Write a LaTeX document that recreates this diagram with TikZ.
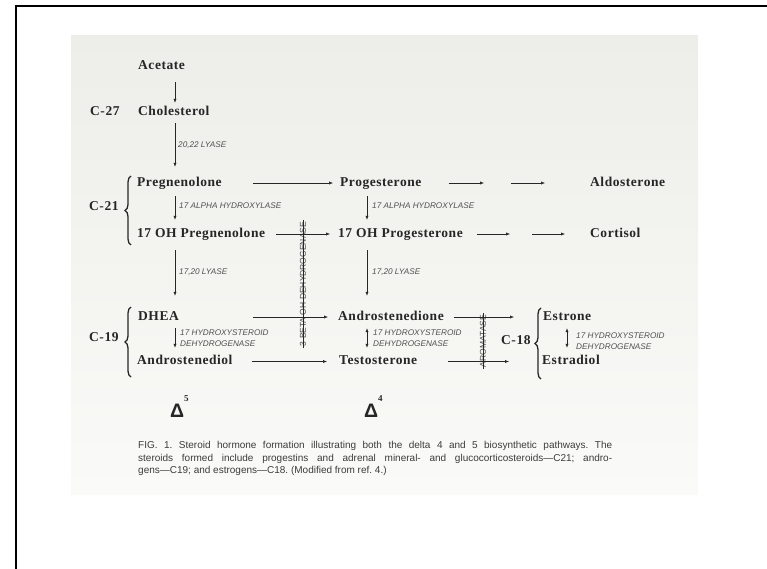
\documentclass[tikz,border=0pt]{standalone}
\usepackage{fontspec}
\setmainfont{Liberation Serif}
\setsansfont{Liberation Sans}
\usetikzlibrary{arrows.meta,decorations.pathreplacing}
\definecolor{ink}{RGB}{38,38,38}
\definecolor{enzink}{RGB}{80,80,80}
\definecolor{papertop}{RGB}{237,237,233}
\definecolor{paperbot}{RGB}{250,250,248}
\frenchspacing

\begin{document}
\begin{tikzpicture}[x=1pt, y=-1pt,
    steroid/.style={anchor=west, inner sep=0pt, text height=9pt, text depth=2.5pt, font=\fontsize{13.5}{15}\selectfont\bfseries\addfontfeature{LetterSpace=4}, text=ink},
    enzyme/.style={anchor=west, inner sep=0pt, font=\sffamily\itshape\fontsize{8.2}{11}\selectfont, text=enzink, align=left},
    vlabel/.style={rotate=90, inner sep=0pt, font=\sffamily\fontsize{8.5}{9}\selectfont, text=enzink},
    curly/.style={decorate, decoration={brace, amplitude=6pt}, line width=1.3pt, draw=ink},
    delta/.style={anchor=base west, inner sep=0pt, font=\sffamily\bfseries\fontsize{19.5}{20}\selectfont, text=ink},
    caption/.style={anchor=base west, inner sep=0pt, font=\sffamily\fontsize{10}{12}\selectfont, text=ink!90},
    edge/.style={-{Latex[length=4pt,width=3.2pt]}, line width=0.6pt, draw=ink},
    twoway/.style={{Latex[length=4pt,width=3.2pt]}-{Latex[length=4pt,width=3.2pt]}, line width=0.6pt, draw=ink},
]
\useasboundingbox (0,0) rectangle (767,569);
\shade[top color=papertop, bottom color=paperbot] (71,36) rectangle (698,494);
\draw[line width=2pt] (16,569) -- (16,6) -- (767,6);

% columns of the vertical steps
\coordinate (colA) at (175,0);
\coordinate (colB) at (367,0);
\coordinate (colC) at (567,0);

\node[steroid] (acetate) at (138,66) {Acetate};
\node[steroid] (c27) at (90,112.5) {C-27};
\node[steroid] (chol) at (138,112.5) {Cholesterol};

\node[steroid] (c21) at (89,207) {C-21};
\node[steroid] (preg) at (137,183) {Pregnenolone};
\node[steroid] (prog) at (340,183) {Progesterone};
\node[steroid] (aldo) at (590,183) {Aldosterone};
\node[steroid] (ohpreg) at (137,234) {17 OH Pregnenolone};
\node[steroid] (ohprog) at (338,234) {17 OH Progesterone};
\node[steroid] (cort) at (590,234) {Cortisol};

\node[steroid] (c19) at (89,338) {C-19};
\node[steroid] (dhea) at (138,317) {DHEA};
\node[steroid] (andro) at (338,317) {Androstenedione};
\node[steroid] (diol) at (137,361.5) {Androstenediol};
\node[steroid] (testo) at (339,361.5) {Testosterone};

\node[steroid] (c18) at (501,341) {C-18};
\node[steroid] (estrone) at (543,317) {Estrone};
\node[steroid] (estradiol) at (542,361.5) {Estradiol};

% braces
\draw[curly] (131,245) -- (131,176);
\draw[curly] (131,377) -- (131,307);
\draw[curly] (541,379) -- (541,308);

\node[enzyme] (lyase2022) at (178,145) {20,22 LYASE};
\node[enzyme] (hydroxA) at (179,206) {17 ALPHA HYDROXYLASE};
\node[enzyme] (hydroxB) at (372,206) {17 ALPHA HYDROXYLASE};
\node[enzyme] (lyaseA) at (179,272) {17,20 LYASE};
\node[enzyme] (lyaseB) at (372,272) {17,20 LYASE};
\node[enzyme] (hsdA) at (180,338.5) {17 HYDROXYSTEROID\\DEHYDROGENASE};
\node[enzyme] (hsdB) at (373,338.5) {17 HYDROXYSTEROID\\DEHYDROGENASE};
\node[enzyme] (hsdC) at (576,341.5) {17 HYDROXYSTEROID\\DEHYDROGENASE};

\node[vlabel] (betahsd) at (303,284) {3 BETA OH DEHYDROGENASE};
\node[vlabel] (aromatase) at (483,341) {AROMATASE};
\draw[line width=0.6pt, draw=ink, shorten <=-2pt, shorten >=-2pt] (betahsd.west) -- (betahsd.east);
\draw[line width=0.6pt, draw=ink, shorten <=-2pt, shorten >=-2pt] (aromatase.west) -- (aromatase.east);

% down the left column
\draw[edge, shorten <=10pt, shorten >=3.75pt] (acetate.south -| colA) -- (chol.north -| colA);
\draw[edge, shorten <=4.75pt, shorten >=10.25pt] (chol.south -| colA) -- (preg.north -| colA);
\draw[edge, shorten <=7.25pt, shorten >=8.25pt] (preg.south -| colA) -- (ohpreg.north -| colA);
\draw[edge, shorten <=10.25pt, shorten >=15.25pt] (ohpreg.south -| colA) -- (dhea.north -| colA);
\draw[edge, shorten <=5.25pt, shorten >=7.75pt] (dhea.south -| colA) -- (diol.north -| colA);
% down the right column
\draw[edge, shorten <=7.25pt, shorten >=8.25pt] (prog.south -| colB) -- (ohprog.north -| colB);
\draw[edge, shorten <=10.25pt, shorten >=15.25pt] (ohprog.south -| colB) -- (andro.north -| colB);
\draw[twoway, shorten <=5.25pt, shorten >=7.75pt] (andro.south -| colB) -- (testo.north -| colB);
\draw[twoway, shorten <=5.25pt, shorten >=7.75pt] (estrone.south -| colC) -- (estradiol.north -| colC);

% across
\coordinate (aldoStepA) at (484,183);
\coordinate (aldoStepB) at (511,183);
\coordinate (cortStepA) at (510,234);
\coordinate (cortStepB) at (532,234);
\draw[edge, shorten <=31pt, shorten >=7pt] (preg.east) -- (prog.west);
\draw[edge, shorten <=27pt] (prog.east) -- (aldoStepA);
\draw[edge, shorten >=45pt] (aldoStepB) -- (aldo.west);
\draw[edge, shorten <=11pt, shorten >=8pt] (ohpreg.east) -- (ohprog.west);
\draw[edge, shorten <=14pt] (ohprog.east) -- (cortStepA);
\draw[edge, shorten >=25pt] (cortStepB) -- (cort.west);
\draw[edge, shorten <=74pt, shorten >=10pt] (dhea.east) -- (andro.west);
\draw[edge, shorten <=10pt, shorten >=29pt] (andro.east) -- (estrone.west);
\draw[edge, shorten <=19pt, shorten >=12pt] (diol.east) -- (testo.west);
\draw[edge, shorten <=31pt, shorten >=33pt] (testo.east) -- (estradiol.west);

\node[delta] (delta5) at (170,417) {Δ\raisebox{16pt}{\rmfamily\fontsize{9}{9}\selectfont 5}};
\node[delta] (delta4) at (364,417) {Δ\raisebox{16pt}{\rmfamily\fontsize{9}{9}\selectfont 4}};

\node[caption] (capA) at (138,448.5) {\makebox[474pt][s]{FIG. 1. Steroid hormone formation illustrating both the delta 4 and 5 biosynthetic pathways. The}};
\node[caption] (capB) at (138,461) {\makebox[474pt][s]{steroids formed include progestins and adrenal mineral- and glucocorticosteroids—C21; andro-}};
\node[caption] (capC) at (138,473) {gens—C19; and estrogens—C18. (Modified from ref. 4.)};
\end{tikzpicture}
\end{document}
